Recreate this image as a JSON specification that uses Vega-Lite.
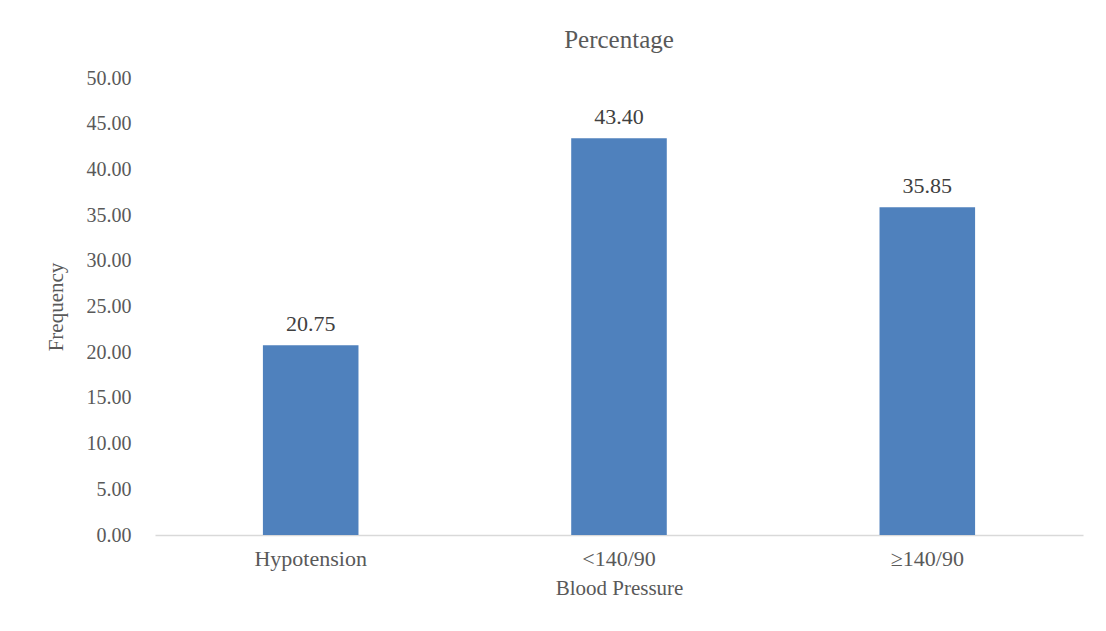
{
  "$schema": "https://vega.github.io/schema/vega-lite/v6.json",
  "width": 928,
  "height": 457,
  "autosize": {"type": "none"},
  "padding": {"left": 155, "top": 78, "right": 23, "bottom": 96},
  "background": "white",
  "title": {
    "text": "Percentage",
    "font": "Liberation Serif",
    "fontSize": 25,
    "fontWeight": "normal",
    "color": "#595959",
    "anchor": "middle",
    "frame": "group",
    "offset": 15
  },
  "config": {
    "view": {"stroke": null},
    "font": "Liberation Serif"
  },
  "data": {
    "values": [
      {"bp": "Hypotension", "pct": 20.75},
      {"bp": "<140/90", "pct": 43.40},
      {"bp": "≥140/90", "pct": 35.85}
    ]
  },
  "encoding": {
    "x": {
      "field": "bp",
      "type": "nominal",
      "sort": null,
      "scale": {"paddingInner": 0.69, "paddingOuter": 0.35},
      "axis": {
        "title": "Blood Pressure",
        "titleFont": "Liberation Serif",
        "titleFontSize": 21,
        "titleFontWeight": "normal",
        "titleColor": "#595959",
        "titlePadding": 8,
        "labelAngle": 0,
        "labelFont": "Liberation Serif",
        "labelFontSize": 22,
        "labelColor": "#595959",
        "labelPadding": 13,
        "ticks": false,
        "domainColor": "#d9d9d9",
        "domainWidth": 1.5,
        "grid": false
      }
    },
    "y": {
      "field": "pct",
      "type": "quantitative",
      "scale": {"domain": [0, 50], "nice": false},
      "axis": {
        "title": "Frequency",
        "titleFont": "Liberation Serif",
        "titleFontSize": 21,
        "titleFontWeight": "normal",
        "titleColor": "#595959",
        "titlePadding": 20,
        "values": [0, 5, 10, 15, 20, 25, 30, 35, 40, 45, 50],
        "format": ".2f",
        "labelFont": "Liberation Serif",
        "labelFontSize": 20,
        "labelColor": "#595959",
        "labelPadding": 24,
        "ticks": false,
        "domain": false,
        "grid": false
      }
    }
  },
  "layer": [
    {"mark": {"type": "bar", "color": "#4F81BD"}},
    {
      "mark": {
        "type": "text",
        "baseline": "bottom",
        "dy": -9,
        "font": "Liberation Serif",
        "fontSize": 22,
        "color": "#404040"
      },
      "encoding": {"text": {"field": "pct", "type": "quantitative", "format": ".2f"}}
    }
  ]
}
